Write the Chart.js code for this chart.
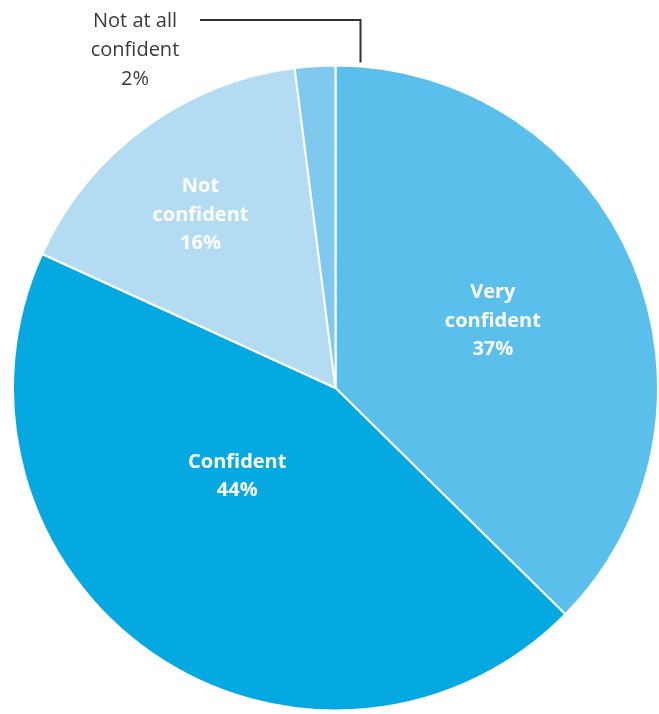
<!DOCTYPE html>
<html>
<head>
<meta charset="utf-8">
<script src="https://cdn.jsdelivr.net/npm/chart.js@4.4.0/dist/chart.umd.min.js"></script>
<style>
  html, body { margin: 0; padding: 0; background: #fff; }
  #wrap { width: 659px; height: 714px; }
</style>
</head>
<body>
<div id="wrap"><canvas id="pie" width="659" height="714"></canvas></div>
<script>
const categories = ["Very confident", "Confident", "Not confident", "Not at all confident"];
const values = [37, 44, 16, 2];
const labelLines = [["Very", "confident", "37%"], ["Confident", "44%"], ["Not", "confident", "16%"], ["Not at all", "confident", "2%"]];
const colors = ["#5abfea", "#04a9e1", "#b3dcf3", "#80c9ee"];

// where each inside label goes: angle (deg, from top, clockwise) and fraction of radius
const labelPlace = [
    { angle: 67, r: 0.53 },
    { angle: 228, r: 0.41 },
    { angle: 322, r: 0.68 },
    null
];

const labelPlugin = {
    id: "sliceLabels",
    afterDatasetsDraw(chart) {
        const ctx = chart.ctx;
        const arcs = chart.getDatasetMeta(0).data;
        const cx = arcs[0].x, cy = arcs[0].y, R = arcs[0].outerRadius;
        ctx.save();
        ctx.textAlign = "center";
        ctx.textBaseline = "middle";
        ctx.font = "bold 20px 'Open Sans', sans-serif";
        ctx.fillStyle = "#ffffff";
        labelPlace.forEach((p, i) => {
            if (!p) return;
            const a = (p.angle - 90) * Math.PI / 180;
            const x = cx + Math.cos(a) * R * p.r;
            const y = cy + Math.sin(a) * R * p.r;
            const lines = labelLines[i];
            const lh = 28.5;
            lines.forEach((t, k) => {
                ctx.fillText(t, x, y + (k - (lines.length - 1) / 2) * lh);
            });
        });

        // outside label for the small slice with leader line
        const lx = cx + 25;
        ctx.strokeStyle = "#333333";
        ctx.lineWidth = 2;
        ctx.beginPath();
        ctx.moveTo(lx, cy - R - 3);
        ctx.lineTo(lx, 20);
        ctx.lineTo(200, 20);
        ctx.stroke();

        ctx.font = "20px 'Open Sans', sans-serif";
        ctx.fillStyle = "#3a3a3a";
        labelLines[3].forEach((t, k) => {
            ctx.fillText(t, 135, 21 + k * 29);
        });
        ctx.restore();
    }
};

new Chart(document.getElementById("pie"), {
    type: "pie",
    data: {
        labels: categories,
        datasets: [{
            data: values,
            backgroundColor: colors,
            borderColor: "#ffffff",
            borderWidth: 2
        }]
    },
    options: {
        responsive: false,
        animation: false,
        layout: { padding: { left: 12, right: -5, top: 62, bottom: 0 } },
        plugins: {
            legend: { display: false },
            tooltip: { enabled: false }
        }
    },
    plugins: [labelPlugin]
});
</script>
</body>
</html>
